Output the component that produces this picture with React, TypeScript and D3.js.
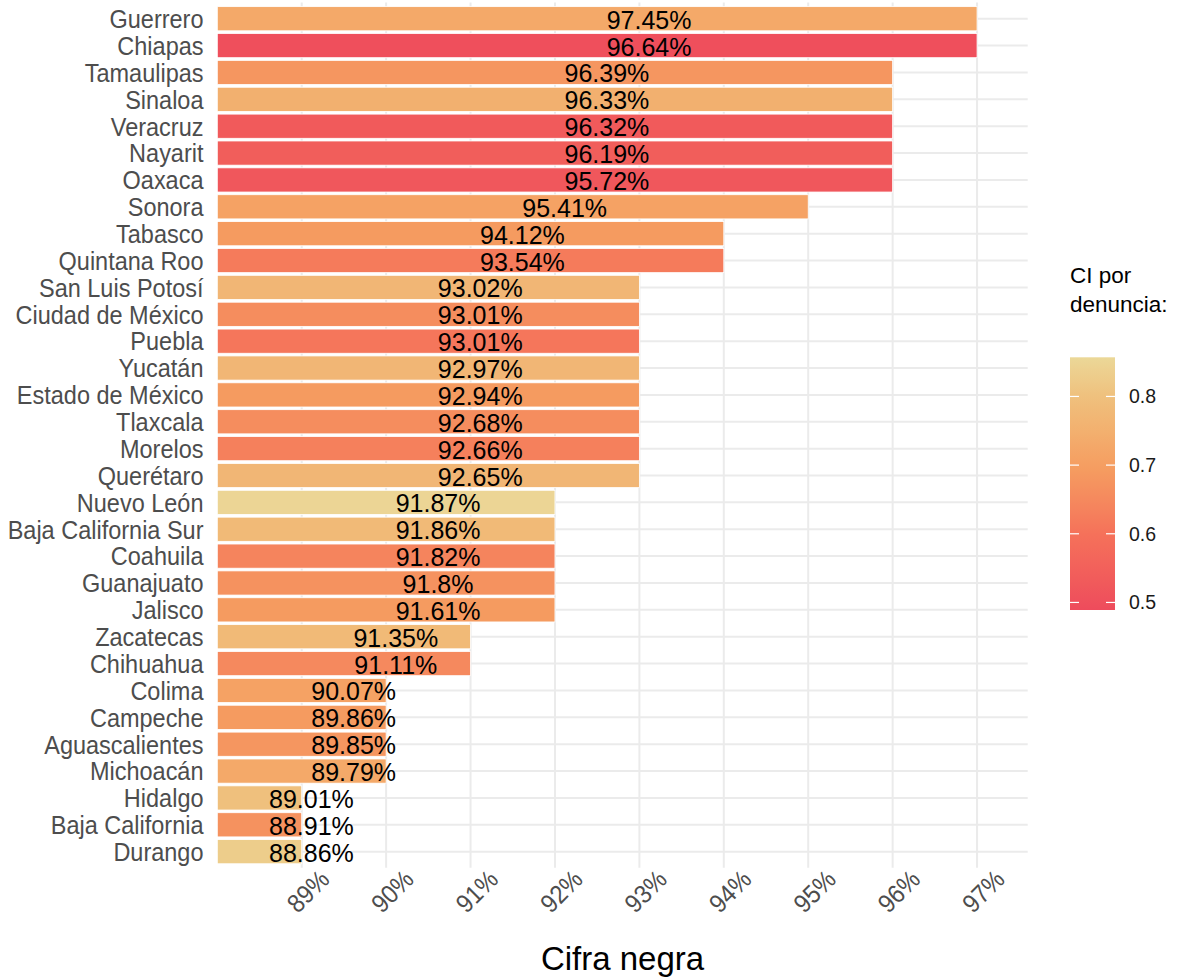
import React, { useRef, useEffect } from "react";
import * as d3 from "d3";

// States, top to bottom
const states = [
  "Guerrero", "Chiapas", "Tamaulipas", "Sinaloa", "Veracruz", "Nayarit", "Oaxaca",
  "Sonora", "Tabasco", "Quintana Roo", "San Luis Potosí", "Ciudad de México", "Puebla",
  "Yucatán", "Estado de México", "Tlaxcala", "Morelos", "Querétaro", "Nuevo León",
  "Baja California Sur", "Coahuila", "Guanajuato", "Jalisco", "Zacatecas", "Chihuahua",
  "Colima", "Campeche", "Aguascalientes", "Michoacán", "Hidalgo", "Baja California", "Durango",
];

// Cifra negra (%)
const cifraNegra = [
  97.45, 96.64, 96.39, 96.33, 96.32, 96.19, 95.72,
  95.41, 94.12, 93.54, 93.02, 93.01, 93.01,
  92.97, 92.94, 92.68, 92.66, 92.65, 91.87,
  91.86, 91.82, 91.8, 91.61, 91.35, 91.11,
  90.07, 89.86, 89.85, 89.79, 89.01, 88.91, 88.86,
];

// CI por denuncia
const ciPorDenuncia = [
  0.73, 0.5, 0.68, 0.75, 0.53, 0.54, 0.52,
  0.71, 0.69, 0.62, 0.77, 0.66, 0.61,
  0.77, 0.69, 0.66, 0.63, 0.77, 0.85,
  0.78, 0.64, 0.67, 0.69, 0.78, 0.65,
  0.71, 0.69, 0.68, 0.73, 0.8, 0.67, 0.83,
];

const xTicks = [89, 90, 91, 92, 93, 94, 95, 96, 97];
const legendTicks = [0.5, 0.6, 0.7, 0.8];

// fill gradient stops
const ciStops = [0.489, 0.6, 0.7, 0.8, 0.857];
const ciColors = ["#ee4b5c", "#f5715a", "#f59f61", "#efc07d", "#ebd898"];

const labelBase = 89.23;
const font = "'Liberation Sans', Arial, Helvetica, sans-serif";

const App = () => {
  const svgRef = useRef(null);

  useEffect(() => {
    const svg = d3.select(svgRef.current);
    svg.selectAll("*").remove();

    const width = 1179;
    const height = 979;
    svg.attr("width", width).attr("height", height);

    const data = states.map((s, i) => ({
      name: s,
      value: cifraNegra[i],
      ci: ciPorDenuncia[i],
    }));

    const xScale = d3.scaleLinear().domain([88.0, 97.6]).range([217.3, 1027.7]);
    const yScale = d3
      .scaleBand()
      .domain(states)
      .range([2.6, 867.8])
      .paddingInner(0.1)
      .paddingOuter(0.15);

    const color = d3
      .scaleLinear<string>()
      .domain(ciStops)
      .range(ciColors)
      .interpolate(d3.interpolateLab);

    const [x0, x1] = xScale.range();
    const [y0, y1] = yScale.range();

    // grid
    const grid = svg.append("g");
    grid
      .selectAll(".hgrid")
      .data(states)
      .enter()
      .append("line")
      .attr("x1", x0)
      .attr("x2", x1)
      .attr("y1", d => yScale(d) + yScale.bandwidth() / 2)
      .attr("y2", d => yScale(d) + yScale.bandwidth() / 2)
      .attr("stroke", "#ebebeb")
      .attr("stroke-width", 2);
    grid
      .selectAll(".vgrid")
      .data(xTicks)
      .enter()
      .append("line")
      .attr("x1", d => xScale(d))
      .attr("x2", d => xScale(d))
      .attr("y1", y0)
      .attr("y2", y1)
      .attr("stroke", "#ebebeb")
      .attr("stroke-width", 2);

    // bars (length is the rounded value)
    svg
      .append("g")
      .selectAll("rect")
      .data(data)
      .enter()
      .append("rect")
      .attr("x", xScale(xScale.domain()[0]))
      .attr("y", d => yScale(d.name))
      .attr("width", d => xScale(Math.round(d.value)) - xScale(xScale.domain()[0]))
      .attr("height", yScale.bandwidth())
      .attr("fill", d => color(d.ci))
      .attr("stroke", "#ffffff")
      .attr("stroke-width", 0.8);

    // bar labels
    svg
      .append("g")
      .selectAll("text")
      .data(data)
      .enter()
      .append("text")
      .attr("x", d => (xScale(labelBase) + xScale(Math.round(d.value))) / 2)
      .attr("y", d => yScale(d.name) + yScale.bandwidth() / 2)
      .attr("dy", "0.4em")
      .attr("text-anchor", "middle")
      .attr("font-family", font)
      .attr("font-size", 25)
      .attr("fill", "#000")
      .text(d => `${d.value}%`);

    // y axis labels (slightly tall glyphs, like the original)
    svg
      .append("g")
      .selectAll("text")
      .data(states)
      .enter()
      .append("text")
      .attr("transform", d => `translate(203.5, ${yScale(d) + yScale.bandwidth() / 2}) scale(1, 1.1)`)
      .attr("dy", "0.36em")
      .attr("text-anchor", "end")
      .attr("font-family", font)
      .attr("font-size", 23.5)
      .attr("fill", "#4d4d4d")
      .text(d => d);

    // x axis labels, rotated
    svg
      .append("g")
      .selectAll("text")
      .data(xTicks)
      .enter()
      .append("text")
      .attr("transform", d => `translate(${xScale(d) + 6}, 891) rotate(-45) scale(1, 1.1)`)
      .attr("dy", "0.36em")
      .attr("text-anchor", "middle")
      .attr("font-family", font)
      .attr("font-size", 23.5)
      .attr("fill", "#4d4d4d")
      .text(d => `${d}%`);

    // x axis title
    svg
      .append("text")
      .attr("x", (x0 + x1) / 2)
      .attr("y", 970)
      .attr("text-anchor", "middle")
      .attr("font-family", font)
      .attr("font-size", 33)
      .attr("fill", "#000")
      .text("Cifra negra");

    // legend
    const legend = svg.append("g");
    const legendY = d3.scaleLinear().domain([ciStops[0], ciStops[ciStops.length - 1]]).range([610, 357.3]);
    const lx = 1070;
    const lw = 45;

    const grad = svg
      .append("defs")
      .append("linearGradient")
      .attr("id", "ciGrad")
      .attr("x1", 0)
      .attr("y1", 1)
      .attr("x2", 0)
      .attr("y2", 0);
    d3.range(0, 1.0001, 0.05).forEach(t => {
      const v = ciStops[0] + t * (ciStops[ciStops.length - 1] - ciStops[0]);
      grad.append("stop").attr("offset", t).attr("stop-color", color(v));
    });

    legend
      .append("text")
      .attr("x", lx)
      .attr("y", 283.3)
      .attr("font-family", font)
      .attr("font-size", 22.5)
      .attr("fill", "#000")
      .text("CI por");
    legend
      .append("text")
      .attr("x", lx)
      .attr("y", 311.7)
      .attr("font-family", font)
      .attr("font-size", 22.5)
      .attr("fill", "#000")
      .text("denuncia:");

    legend
      .append("rect")
      .attr("x", lx)
      .attr("y", legendY.range()[1])
      .attr("width", lw)
      .attr("height", legendY.range()[0] - legendY.range()[1])
      .attr("fill", "url(#ciGrad)");

    legendTicks.forEach(t => {
      legend
        .append("line")
        .attr("x1", lx)
        .attr("x2", lx + 9)
        .attr("y1", legendY(t))
        .attr("y2", legendY(t))
        .attr("stroke", "#fff")
        .attr("stroke-width", 1.2);
      legend
        .append("line")
        .attr("x1", lx + lw - 9)
        .attr("x2", lx + lw)
        .attr("y1", legendY(t))
        .attr("y2", legendY(t))
        .attr("stroke", "#fff")
        .attr("stroke-width", 1.2);
      legend
        .append("text")
        .attr("x", 1129)
        .attr("y", legendY(t))
        .attr("dy", "0.36em")
        .attr("font-family", font)
        .attr("font-size", 19.5)
        .attr("fill", "#1a1a1a")
        .text(t);
    });
  }, []);

  return (
    <svg
      ref={svgRef}
      style={{ position: "absolute", left: 0, top: 0, display: "block", background: "#fff" }}
    ></svg>
  );
};

export default App;
